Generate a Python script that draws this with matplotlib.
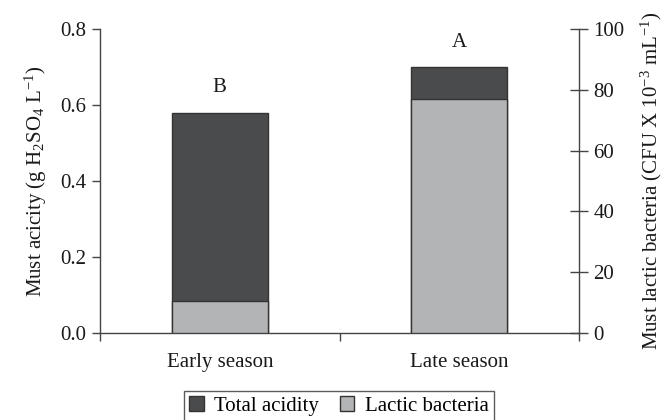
import matplotlib
matplotlib.use("Agg")
import matplotlib.pyplot as plt
from matplotlib.patches import Patch

categories = ["Early season", "Late season"]
total_acidity = [0.58, 0.70]          # g H2SO4 / L (left axis)
lactic_bacteria = [10.5, 77.0]        # CFU x 10^-3 / mL (right axis)
letters = ["B", "A"]

plt.rcParams["font.family"] = ["Liberation Serif", "DejaVu Serif"]
plt.rcParams["mathtext.fontset"] = "custom"
plt.rcParams["mathtext.rm"] = "Liberation Serif"
plt.rcParams["mathtext.it"] = "Liberation Serif:italic"

FS = 15
dark = "#4a4b4d"
light = "#b3b4b6"
edge = "#333333"
axcol = "#444444"
txt = "#1a1a1a"

fig = plt.figure(figsize=(6.67, 4.2), dpi=100)
ax = fig.add_axes([0.15, 0.207, 0.718, 0.724])
ax2 = ax.twinx()

x = list(range(len(categories)))
w = 0.4
ax.bar(x, total_acidity, width=w, color=dark, edgecolor=edge, linewidth=1.0, zorder=2)
ax2.bar(x, lactic_bacteria, width=w, color=light, edgecolor=edge, linewidth=1.0, zorder=2)

for xi, v, l in zip(x, total_acidity, letters):
    ax.text(xi, v + 0.065, l, ha="center", va="center", fontsize=FS, color=txt)

ax.set_xlim(-0.5, 1.5)
ax.set_ylim(0, 0.8)
ax2.set_ylim(0, 100)
ax.set_yticks([0, 0.2, 0.4, 0.6, 0.8])
ax.set_yticklabels(["0.0", "0.2", "0.4", "0.6", "0.8"])
ax2.set_yticks([0, 20, 40, 60, 80, 100])

ax.set_xticks(x)
ax.set_xticklabels(categories)
ax.set_xticks([-0.5, 0.5, 1.5], minor=True)
ax.tick_params(axis="x", which="major", length=0, pad=14, labelsize=FS, colors=txt)
ax.tick_params(axis="x", which="minor", length=6, direction="out", color=axcol, width=1)
ax.tick_params(axis="y", length=6, direction="out", labelsize=FS, color=axcol, width=1, labelcolor=txt, pad=4)
ax2.tick_params(axis="y", length=13, direction="inout", labelsize=FS, color=axcol, width=1, labelcolor=txt, pad=4)

for a in (ax, ax2):
    a.spines["top"].set_visible(False)
    for s in a.spines.values():
        s.set_color(axcol)
        s.set_linewidth(1)
ax.spines["right"].set_visible(False)
ax2.spines["left"].set_visible(False)
ax2.spines["bottom"].set_visible(False)

ax.set_ylabel("Must acicity (g H$_2$SO$_4$ L$^{-1}$)", fontsize=FS, color=txt, labelpad=8)
ax2.set_ylabel("Must lactic bacteria (CFU X 10$^{-3}$ mL$^{-1}$)", fontsize=FS, color=txt, labelpad=10)

handles = [Patch(facecolor=dark, edgecolor=edge, label="Total acidity"),
           Patch(facecolor=light, edgecolor=edge, label="Lactic bacteria")]
leg = fig.legend(handles=handles, ncol=2, loc="upper center", bbox_to_anchor=(0.508, 0.094),
                 frameon=True, fancybox=False, fontsize=FS, handlelength=0.7, handleheight=0.7,
                 handletextpad=0.5, columnspacing=1.0, borderpad=0.25, edgecolor=edge)
leg.get_frame().set_linewidth(1)

fig.savefig("out.png", dpi=100)
